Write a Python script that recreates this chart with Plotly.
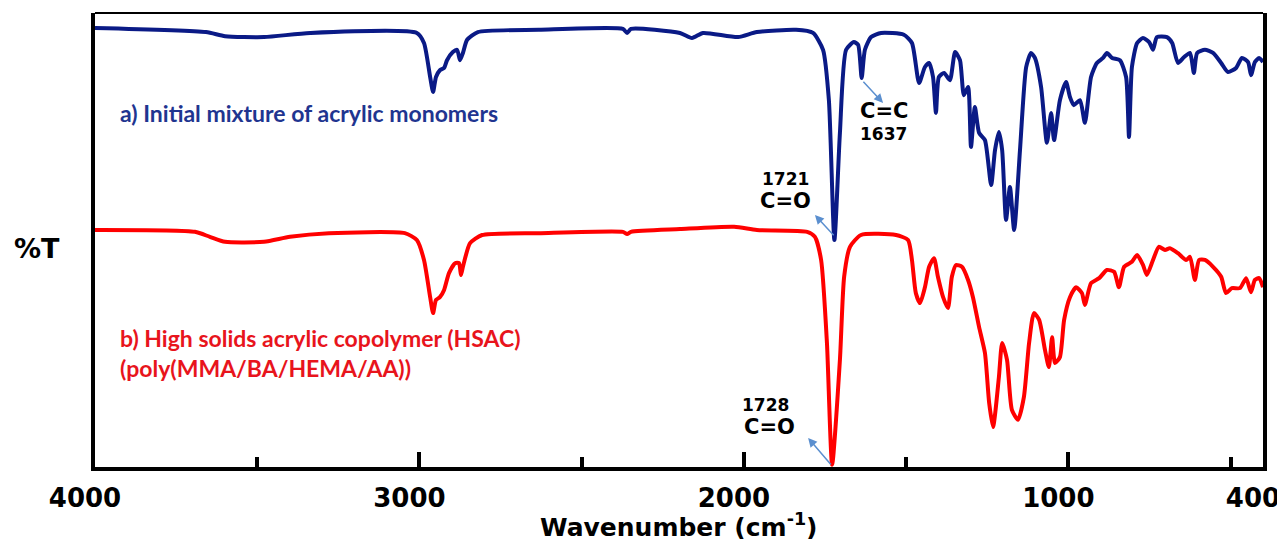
import plotly.graph_objects as go

# ---------------- data ----------------
wn_a = [4000, 3658, 3599, 3479, 3337, 3008, 2986, 2967, 2958, 2949, 2937, 2924, 2915, 2897, 2884,
        2875, 2866, 2853, 2820, 2632, 2373, 2360, 2348, 2197, 2160, 2126, 2018, 1960, 1839, 1787,
        1756, 1738, 1721, 1704, 1685, 1661, 1648, 1637, 1627, 1608, 1577, 1507, 1482, 1460, 1442,
        1429, 1417, 1408, 1399, 1383, 1365, 1349, 1334, 1322, 1309, 1300, 1288, 1275, 1257, 1238,
        1226, 1214, 1204, 1192, 1180, 1167, 1149, 1130, 1115, 1103, 1084, 1066, 1053, 1044, 1026,
        1007, 995, 983, 964, 949, 930, 912, 893, 881, 865, 841, 822, 813, 804, 788,
        770, 751, 739, 727, 696, 680, 662, 643, 625, 613, 603, 579, 554, 529, 508,
        483, 465, 446, 437, 425, 412, 400]
t_a = [96.7, 95.8, 94.9, 94.7, 95.6, 95.6, 93.4, 85.9, 82.6, 85.9, 87.4, 87.9, 89.6, 91.4, 91.9,
       89.6, 91.2, 94.1, 95.8, 96.3, 96.5, 95.6, 96.5, 95.6, 94.5, 95.6, 94.7, 95.8, 96.3, 95.6,
       91.9, 80.8, 50.0, 73.6, 91.9, 93.6, 93.0, 85.7, 91.9, 94.7, 95.6, 95.2, 93.4, 84.6, 88.1,
       89.0, 85.9, 78.0, 85.9, 86.8, 85.2, 91.4, 89.6, 81.9, 83.7, 70.5, 79.3, 73.6, 72.0, 62.1,
       69.8, 73.8, 69.8, 54.4, 61.7, 52.2, 69.8, 88.1, 91.2, 90.1, 83.7, 71.4, 78.0, 72.0, 80.8,
       84.8, 81.5, 79.7, 80.8, 75.8, 85.9, 89.0, 90.1, 91.2, 90.1, 89.6, 85.9, 72.7, 88.1, 93.4,
       94.5, 93.6, 91.9, 94.7, 94.7, 93.4, 89.0, 90.3, 91.2, 86.8, 91.2, 91.9, 91.2, 89.0, 87.0,
       87.9, 90.1, 89.2, 86.3, 89.2, 90.1, 89.2]

wn_b = [4000, 3692, 3646, 3599, 3479, 3399, 3279, 3045, 3008, 2986, 2967, 2958, 2949, 2937, 2924,
        2909, 2890, 2878, 2872, 2866, 2844, 2807, 2632, 2373, 2360, 2348, 2197, 2030, 1960, 1805,
        1781, 1762, 1744, 1728, 1704, 1691, 1673, 1639, 1531, 1494, 1482, 1470, 1457, 1442, 1429,
        1414, 1402, 1386, 1371, 1359, 1346, 1328, 1309, 1294, 1275, 1257, 1244, 1232, 1214, 1204,
        1189, 1174, 1155, 1137, 1121, 1106, 1090, 1072, 1060, 1050, 1041, 1026, 1013, 995, 976,
        958, 949, 930, 905, 881, 859, 844, 828, 804, 788, 770, 758, 739, 721, 702,
        687, 662, 637, 625, 610, 597, 579, 554, 529, 514, 496, 471, 452, 437, 425,
        412, 400]
t_b = [52.2, 51.8, 50.7, 49.6, 49.6, 50.7, 51.5, 51.5, 50.0, 45.6, 37.4, 33.9, 36.8, 37.4, 39.0,
       42.7, 44.9, 44.9, 42.3, 44.1, 49.3, 51.1, 51.5, 51.8, 51.3, 51.8, 52.4, 52.9, 52.2, 51.8,
       50.7, 45.6, 27.3, 0.5, 23.6, 41.9, 48.5, 51.1, 51.1, 50.0, 45.6, 38.3, 36.1, 39.6, 44.1,
       46.0, 41.9, 37.4, 35.0, 41.9, 44.5, 44.1, 41.2, 37.4, 30.8, 25.1, 14.1, 8.8, 19.8, 27.3,
       23.6, 12.6, 10.4, 15.4, 27.3, 33.9, 32.4, 25.8, 22.0, 28.6, 22.9, 24.2, 32.4, 37.4, 39.6,
       38.3, 35.7, 40.5, 41.6, 43.4, 43.0, 39.6, 44.1, 45.2, 46.7, 44.5, 42.3, 45.6, 48.5, 47.8,
       48.2, 47.1, 45.6, 46.3, 41.2, 45.6, 45.6, 44.1, 41.9, 38.3, 39.4, 39.4, 41.6, 38.5, 41.2,
       41.6, 39.6]

tick_vals = [4000, 3000, 2000, 1000, 400]
tick_text = ["4000", "3000", "2000", "1000", "400"]

label_a = "a) Initial mixture of acrylic monomers"
label_b = "b) High solids acrylic copolymer (HSAC)<br>(poly(MMA/BA/HEMA/AA))"
x_title = "Wavenumber (cm<sup>-1</sup>)"
y_title = "%T"

# ---------------- figure ----------------
NAVY = "#0a1a86"
RED = "#ff0000"
ARROW = "#5b8fcf"
BOLD = "DejaVu Sans"

fig = go.Figure()
fig.add_trace(go.Scatter(x=wn_a, y=t_a, mode="lines",
                         line=dict(color=NAVY, width=4, shape="spline", smoothing=0.6),
                         showlegend=False, hoverinfo="skip"))
fig.add_trace(go.Scatter(x=wn_b, y=t_b, mode="lines",
                         line=dict(color=RED, width=4, shape="spline", smoothing=0.6),
                         showlegend=False, hoverinfo="skip"))

annots = []
annots.append(dict(x=3929, y=78, xref="x", yref="y", text=label_a, showarrow=False,
                   xanchor="left", yanchor="middle",
                   font=dict(family="Lato", size=23, color="#1f3590", weight="bold")))
annots.append(dict(x=3929, y=25.1, xref="x", yref="y", text=label_b, showarrow=False,
                   xanchor="left", yanchor="middle", align="left",
                   font=dict(family="Lato", size=23, color="#e8141c", weight="bold")))

def lab(x, y, txt, size):
    return dict(x=x, y=y, xref="x", yref="y", text=txt, showarrow=False,
                xanchor="center", yanchor="middle", borderpad=0,
                font=dict(family=BOLD, size=size, color="black", weight="bold"))

annots += [lab(1568, 78.4, "C=C", 21), lab(1571, 73.3, "1637", 17),
           lab(1873, 63.4, "1721", 17), lab(1873, 58.6, "C=O", 21),
           lab(1932, 13.7, "1728", 17), lab(1920, 8.8, "C=O", 21)]

def arrow(hx, hy, tx, ty):
    return dict(x=hx, y=hy, ax=tx, ay=ty, xref="x", yref="y", axref="x", ayref="y",
                text="", showarrow=True, arrowhead=2, arrowsize=1.2, arrowwidth=1.5,
                arrowcolor=ARROW)

annots += [arrow(1571, 80.2, 1636, 85.2), arrow(1781, 55.5, 1719, 50.7),
           arrow(1802, 6.4, 1728, 0.2)]

annots.append(dict(x=-0.0497, y=0.482, xref="paper", yref="paper", text=y_title,
                   showarrow=False, xanchor="center", yanchor="middle",
                   font=dict(family=BOLD, size=27, color="black", weight="bold")))
annots.append(dict(x=0.5, y=-0.128, xref="paper", yref="paper", text=x_title,
                   showarrow=False, xanchor="center", yanchor="middle",
                   font=dict(family=BOLD, size=25, color="black", weight="bold")))

# page body adds an 8px offset; margins compensate so the plot frame sits at
# x 95..1263, y 13..467 in the 1285x539 window
fig.update_layout(
    width=1285, height=539,
    margin=dict(l=87, r=30, t=5, b=80, autoexpand=False),
    paper_bgcolor="white", plot_bgcolor="white",
    annotations=annots,
    shapes=[dict(type="line", xref="paper", yref="paper", x0=0, x1=1, y0=1, y1=1,
                 line=dict(color="black", width=2))],
    xaxis=dict(range=[4000, 400], showgrid=False, zeroline=False, automargin=False,
               showline=True, linecolor="black", linewidth=4, mirror=False,
               ticks="inside", ticklen=15, tickwidth=4, tickcolor="black",
               tickvals=tick_vals, ticktext=tick_text,
               ticklabelstandoff=5, ticklabelshift=10,
               tickfont=dict(family=BOLD, size=26, color="black", weight="bold"),
               minor=dict(tickvals=[3500, 2500, 1500, 500], ticks="inside", ticklen=10,
                          tickwidth=4, tickcolor="black", showgrid=False)),
    yaxis=dict(range=[0, 100], showgrid=False, zeroline=False, showticklabels=False,
               automargin=False, ticks="", showline=True, linecolor="black",
               linewidth=4, mirror=True),
)

fig.write_html("out.html")
